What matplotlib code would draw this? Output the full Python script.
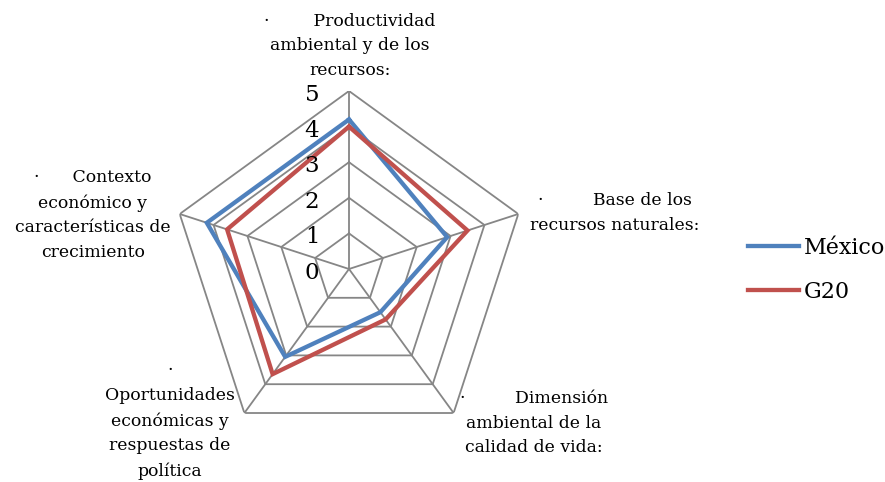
import numpy as np
import matplotlib
matplotlib.use("Agg")
import matplotlib.pyplot as plt

categories = [
    "·        Productividad\nambiental y de los\nrecursos:",
    "·         Base de los\nrecursos naturales:",
    "·         Dimensión\nambiental de la\ncalidad de vida:",
    "·\nOportunidades\neconómicas y\nrespuestas de\npolítica",
    "·      Contexto\neconómico y\ncaracterísticas de\ncrecimiento",
]
mexico = [4.2, 2.9, 1.5, 3.05, 4.2]
g20 = [4.0, 3.5, 1.75, 3.65, 3.6]
ticks = [0, 1, 2, 3, 4, 5]
series_names = ["México", "G20"]
colors = ["#4F81BD", "#C0504D"]

plt.rcParams["font.family"] = ["DejaVu Serif"]

fig = plt.figure(figsize=(8.85, 4.82), dpi=100)
cx, cy, R = 349 / 885, 1 - 269 / 482, 178
w, h = R / 885, R / 482
ax = fig.add_axes([cx - w, cy - h, 2 * w, 2 * h], projection="polar")
ax.set_theta_offset(np.pi / 2)
ax.set_theta_direction(-1)
ax.set_ylim(0, 5)
ax.axis("off")

n = len(categories)
angles = np.linspace(0, 2 * np.pi, n, endpoint=False)
closed = np.concatenate([angles, angles[:1]])

grid_c = "#868686"
for t in ticks[1:]:
    ax.plot(closed, [t] * (n + 1), color=grid_c, lw=1.3, zorder=1)
for a in angles:
    ax.plot([a, a], [0, ticks[-1]], color=grid_c, lw=1.3, zorder=1)

for vals, name, c in zip([mexico, g20], series_names, colors):
    v = np.concatenate([vals, vals[:1]])
    ax.plot(closed, v, color=c, lw=3.1, label=name, zorder=3,
            solid_joinstyle="miter")

for t in ticks:
    ax.annotate(str(t), xy=(0, t), xycoords="data", xytext=(-37, -4),
                textcoords="offset pixels", fontsize=16.5, ha="center",
                va="center", zorder=4, annotation_clip=False)

# category labels
label_pos = [(350, 46), (615, 213), (534, 423), (170, 421), (93, 215)]
for lab, (px, py) in zip(categories, label_pos):
    fig.text(px / 885, 1 - py / 482, lab, fontsize=12.4, ha="center",
             va="center", linespacing=1.6)

fig.legend(loc="center left", bbox_to_anchor=(728 / 885, 1 - 270 / 482),
           frameon=False, fontsize=16, handlelength=2.3, handletextpad=0.2,
           labelspacing=1.0)

fig.savefig("out.png", dpi=100)
